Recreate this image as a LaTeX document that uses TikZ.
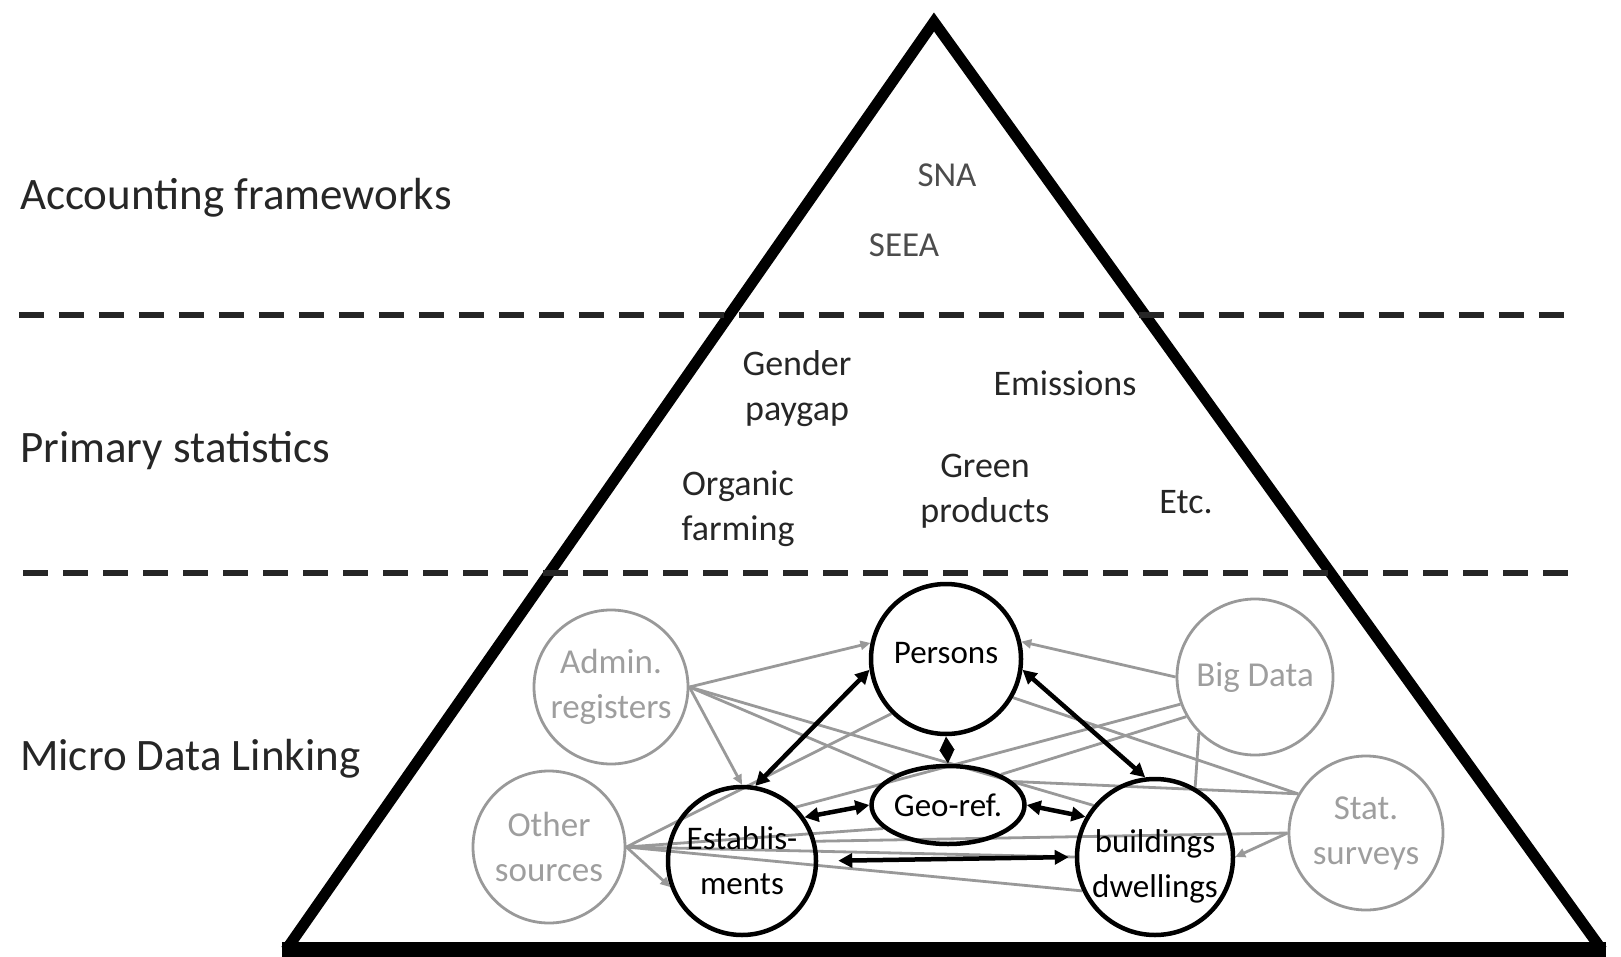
\documentclass[tikz,border=0pt]{standalone}
\usepackage{fontspec}
\setmainfont{Carlito}
\usetikzlibrary{arrows.meta,shapes.geometric}
\pgfdeclarelayer{bg}
\pgfsetlayers{bg,main}
\begin{document}
\begin{tikzpicture}[x=1pt,y=-1pt,
  leftlabel/.style={anchor=base west, font=\fontsize{45}{54}\selectfont, text=black!85, inner sep=0},
  midtext/.style={anchor=base, font=\fontsize{36}{45}\selectfont, inner sep=0, text=black!85},
  toptext/.style={anchor=base, font=\fontsize{35}{42}\selectfont, inner sep=0, text=black!70},
  srcnode/.style={circle, draw=black!40, line width=2.8pt, minimum size=154pt, inner sep=0, text=black!38, font=\fontsize{35}{45}\selectfont, align=center},
  corenode/.style={circle, draw=black, line width=4.5pt, inner sep=0, font=\fontsize{33}{45}\selectfont, align=center},
  blk/.style={line width=4.5pt, {Triangle[length=14pt,width=14pt]}-{Triangle[length=14pt,width=14pt]}},
  gl/.style={draw=black!40, line width=2.8pt},
  gla/.style={gl, -{Triangle[length=10pt,width=9pt]}},
  dashsep/.style={line width=5.5pt, dash pattern=on 25pt off 15pt, draw=black!85},
]
\useasboundingbox (0,0) rectangle (1621,957);

% pyramid
\coordinate (apex) at (934,22);
\coordinate (bl) at (286,950);
\coordinate (br) at (1602,950);
\draw[line width=11pt, line join=miter] (bl) -- (apex) -- (br);
\draw[line width=16pt] ([xshift=-4pt]bl) -- ([xshift=4pt]br);

% separators
\coordinate (d1a) at (19,315);
\coordinate (d1b) at (1572,315);
\coordinate (d2a) at (23,573);
\coordinate (d2b) at (1574,573);
\draw[dashsep] (d1a) -- (d1b);
\draw[dashsep] (d2a) -- (d2b);

% left labels
\node[leftlabel] (lab1) at (20,210) {Accounting frameworks};
\node[leftlabel] (lab2) at (20,462) {Primary statistics};
\node[leftlabel] (lab3) at (20,770) {Micro Data Linking};

% top level
\node[toptext] (sna) at (947,187) {SNA};
\node[toptext] (seea) at (904,257) {SEEA};

% middle level
\node[midtext] (gender) at (797,375) {\begin{tabular}[t]{@{}c@{}}Gender\\paygap\end{tabular}};
\node[midtext] (emis) at (1065,395) {Emissions};
\node[midtext] (organic) at (738,495) {\begin{tabular}[t]{@{}c@{}}Organic\\farming\end{tabular}};
\node[midtext] (green) at (985,477) {\begin{tabular}[t]{@{}c@{}}Green\\products\end{tabular}};
\node[midtext] (etc) at (1186,513) {Etc.};

% micro data nodes
\node[corenode, minimum size=150pt, text height=16pt, text depth=8pt] (persons) at (946,659) {Persons};
\node[corenode, minimum size=148pt] (est) at (742,861) {Establis-\\ments};
\node[corenode, minimum size=156pt] (bld) at (1155,857) {\raisebox{0pt}[60pt][30pt]{\begin{tabular}{@{}c@{}}buildings\\dwellings\end{tabular}}};
\node[corenode, ellipse, minimum width=138pt, minimum height=78pt] (geo) at (948,805) {Geo-ref.};

\node[srcnode] (admin) at (611,687) {Admin.\\registers};
\node[srcnode, minimum size=152pt] (other) at (549,847) {Other\\sources};
\node[srcnode, minimum size=156pt] (bigdata) at (1255,677) {Big Data};
\node[srcnode] (stat) at (1366,833) {Stat.\\surveys};

% gray links
\begin{pgfonlayer}{bg}
\draw[gla] (admin.east) -- (persons.168);
\draw[gla] (admin.east) -- (est.north);
\draw[gl] (admin.east) -- (geo.150);
\draw[gl] (admin.east) -- (bld.140);

\draw[gla] (other.east) -- (est.200);
\draw[gl] (other.east) -- (persons.225);
\draw[gl] (other.east) -- (geo.200);
\draw[gl] (other.east) -- (bld.west);
\draw[gl] (other.east) -- (bld.205);

\draw[gla] (bigdata.west) -- (persons.13);
\draw[gl] (bigdata.200) -- (est.45);
\draw[gl] (bigdata.225) -- (bld.60);
\draw[gl] (bigdata.210) -- (geo.30);

\draw[gla] (stat.west) -- (bld.east);
\draw[gl] (stat.west) -- (est.15);
\draw[gl] (stat.150) -- (persons.330);
\draw[gl] (stat.150) -- (geo.20);
\end{pgfonlayer}

% black links
\draw[blk] (est.80) -- (persons.188);
\draw[blk] (persons.352) -- (bld.97);
\draw[blk] (persons.south) -- (geo.north);
\draw[blk] (est.35) -- (geo.west);
\draw[blk] (geo.east) -- (bld.150);
\draw[blk, shorten <=20pt, shorten >=6pt] (est.east) -- (bld.west);
\end{tikzpicture}
\end{document}
